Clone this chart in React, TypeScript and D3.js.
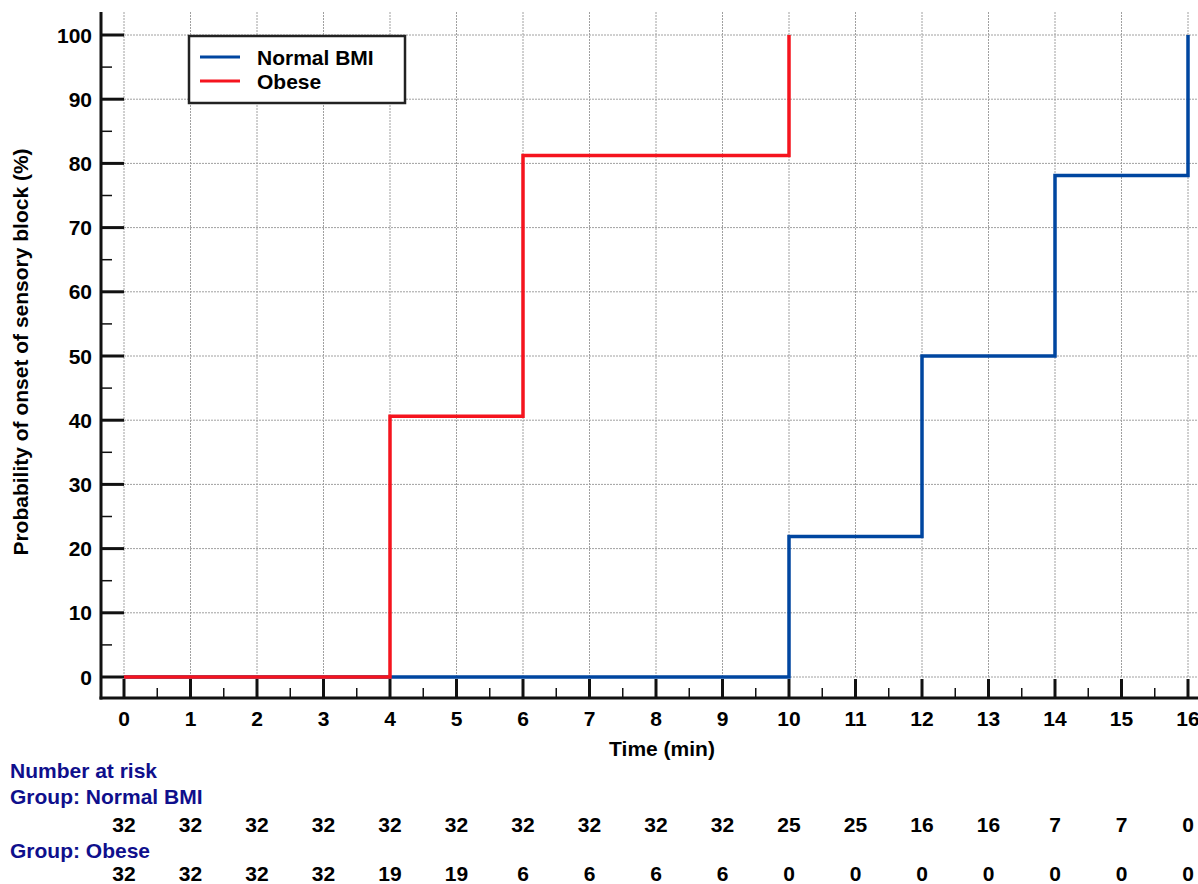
import React, { useRef, useEffect } from 'react';
import * as d3 from 'd3';

// cumulative probability (%) of onset at each step
const normalTimes = [0, 10, 10, 12, 12, 14, 14, 16, 16];
const normalValues = [0, 0, 21.875, 21.875, 50, 50, 78.125, 78.125, 100];
const obeseTimes = [0, 4, 4, 6, 6, 10, 10];
const obeseValues = [0, 0, 40.625, 40.625, 81.25, 81.25, 100];

const xTicks = d3.range(0, 17);
const yTicks = [0, 10, 20, 30, 40, 50, 60, 70, 80, 90, 100];

const atRiskNormal = [32, 32, 32, 32, 32, 32, 32, 32, 32, 32, 25, 25, 16, 16, 7, 7, 0];
const atRiskObese = [32, 32, 32, 32, 19, 19, 6, 6, 6, 6, 0, 0, 0, 0, 0, 0, 0];

const seriesNames = ['Normal BMI', 'Obese'];
const seriesColors = ['#0046a0', '#f5141e'];

const App = () => {
  const svgRef = useRef(null);

  useEffect(() => {
    const width = 1198;
    const height = 884;
    const font = 'Liberation Sans, Arial, sans-serif';
    const navy = '#0f0f8c';
    const fs = 21;

    d3.select(svgRef.current).selectAll('*').remove();

    const svg = d3
      .select(svgRef.current)
      .attr('width', width)
      .attr('height', height)
      .style('font-family', font)
      .style('font-weight', 'bold');

    const xScale = d3.scaleLinear().domain([0, 16]).range([124, 1188]);
    const yScale = d3.scaleLinear().domain([0, 100]).range([677, 35]);

    const axisX = 101; // y axis line position
    const axisY = 698; // x axis line position
    const top = 12;

    // grid
    const grid = svg.append('g').attr('stroke', '#a0a0a0').attr('stroke-width', 1).attr('stroke-dasharray', '2,1');
    xTicks.forEach(t => {
      grid.append('line')
        .attr('x1', xScale(t)).attr('x2', xScale(t))
        .attr('y1', top).attr('y2', yScale(0));
    });
    yTicks.forEach(t => {
      grid.append('line')
        .attr('x1', xScale(0)).attr('x2', width)
        .attr('y1', yScale(t)).attr('y2', yScale(t));
    });

    // y axis
    svg.append('line')
      .attr('x1', axisX).attr('x2', axisX)
      .attr('y1', top).attr('y2', axisY + 1.5)
      .attr('stroke', '#111').attr('stroke-width', 3);
    yTicks.forEach(t => {
      svg.append('line')
        .attr('x1', axisX).attr('x2', xScale(0))
        .attr('y1', yScale(t)).attr('y2', yScale(t))
        .attr('stroke', '#111').attr('stroke-width', 3);
      svg.append('text')
        .attr('x', axisX - 9)
        .attr('y', yScale(t))
        .attr('dy', '0.36em')
        .attr('text-anchor', 'end')
        .attr('font-size', fs)
        .text(t);
    });
    d3.range(5, 100, 10).forEach(t => {
      svg.append('line')
        .attr('x1', axisX).attr('x2', axisX + 11)
        .attr('y1', yScale(t)).attr('y2', yScale(t))
        .attr('stroke', '#111').attr('stroke-width', 1.5);
    });

    // x axis
    svg.append('line')
      .attr('x1', axisX - 1.5).attr('x2', width)
      .attr('y1', axisY).attr('y2', axisY)
      .attr('stroke', '#111').attr('stroke-width', 3);
    xTicks.forEach(t => {
      svg.append('line')
        .attr('x1', xScale(t)).attr('x2', xScale(t))
        .attr('y1', axisY).attr('y2', yScale(0) + 2)
        .attr('stroke', '#111').attr('stroke-width', 3);
      svg.append('text')
        .attr('x', xScale(t))
        .attr('y', 726)
        .attr('text-anchor', 'middle')
        .attr('font-size', fs)
        .text(t);
    });
    d3.range(0.5, 16, 1).forEach(t => {
      svg.append('line')
        .attr('x1', xScale(t)).attr('x2', xScale(t))
        .attr('y1', axisY).attr('y2', axisY - 10)
        .attr('stroke', '#111').attr('stroke-width', 1.5);
    });

    // axis titles
    svg.append('text')
      .attr('x', 662)
      .attr('y', 756)
      .attr('text-anchor', 'middle')
      .attr('font-size', fs)
      .text('Time (min)');

    svg.append('text')
      .attr('transform', 'rotate(-90)')
      .attr('x', -352)
      .attr('y', 28)
      .attr('text-anchor', 'middle')
      .attr('font-size', fs)
      .text('Probability of onset of sensory block (%)');

    // step lines
    const drawSeries = (times: number[], values: number[], color: string) => {
      const pts = times.map((t, i) => [xScale(t), yScale(values[i])] as [number, number]);
      svg.append('path')
        .datum(pts)
        .attr('fill', 'none')
        .attr('stroke', color)
        .attr('stroke-width', 3.5)
        .attr('d', d3.line());
    };
    drawSeries(normalTimes, normalValues, seriesColors[0]);
    drawSeries(obeseTimes, obeseValues, seriesColors[1]);

    // legend
    const legend = svg.append('g');
    legend.append('rect')
      .attr('x', 189).attr('y', 36)
      .attr('width', 216).attr('height', 67)
      .attr('fill', '#fff')
      .attr('stroke', '#222').attr('stroke-width', 2.5);
    seriesNames.forEach((name, i) => {
      const y = 57 + i * 24;
      legend.append('line')
        .attr('x1', 200).attr('x2', 240)
        .attr('y1', y).attr('y2', y)
        .attr('stroke', seriesColors[i]).attr('stroke-width', 3);
      legend.append('text')
        .attr('x', 257).attr('y', y)
        .attr('dy', '0.36em')
        .attr('font-size', fs)
        .text(name);
    });

    // number at risk table
    svg.append('text').attr('x', 10).attr('y', 778).attr('font-size', fs).attr('fill', navy).text('Number at risk');
    svg.append('text').attr('x', 10).attr('y', 804).attr('font-size', fs).attr('fill', navy).text('Group: Normal BMI');
    svg.append('text').attr('x', 10).attr('y', 858).attr('font-size', fs).attr('fill', navy).text('Group: Obese');
    atRiskNormal.forEach((n, i) => {
      svg.append('text')
        .attr('x', xScale(xTicks[i])).attr('y', 832)
        .attr('text-anchor', 'middle').attr('font-size', fs)
        .text(n);
    });
    atRiskObese.forEach((n, i) => {
      svg.append('text')
        .attr('x', xScale(xTicks[i])).attr('y', 881)
        .attr('text-anchor', 'middle').attr('font-size', fs)
        .text(n);
    });
  }, []);

  return <svg ref={svgRef} style={{ position: 'absolute', left: 0, top: 0, background: '#fff' }}></svg>;
};

export default App;
